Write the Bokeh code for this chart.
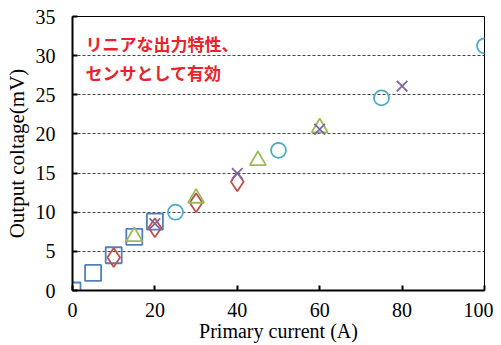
from bokeh.plotting import figure
from bokeh.models import Range1d, FixedTicker, Label
from bokeh.embed import file_html
from bokeh.resources import INLINE

sq_x = [0, 5, 10, 15, 20]
sq_y = [0, 2.25, 4.5, 6.85, 8.8]
dm_x = [10, 20, 30, 40]
dm_y = [4.2, 8.0, 11.2, 13.9]
tr_x = [15, 30, 45, 60]
tr_y = [6.9, 11.8, 16.6, 20.8]
xx_x = [20, 40, 60, 80]
xx_y = [8.55, 14.95, 20.6, 26.1]
ci_x = [25, 50, 75, 100]
ci_y = [10.0, 17.9, 24.6, 31.25]
x_ticks = [0, 20, 40, 60, 80, 100]
y_ticks = [0, 5, 10, 15, 20, 25, 30, 35]

p = figure(frame_width=412, frame_height=274, output_backend="svg", toolbar_location=None,
           x_range=Range1d(0, 100), y_range=Range1d(0, 35),
           min_border_left=72, min_border_right=9, min_border_top=16, min_border_bottom=50)
p.background_fill_color = "white"
p.border_fill_color = "white"
p.outline_line_color = "black"
p.outline_line_width = 1

p.xgrid.grid_line_color = None
p.ygrid.ticker = FixedTicker(ticks=[5, 10, 15, 20, 25, 30])
p.ygrid.grid_line_color = "#444444"
p.ygrid.grid_line_dash = "3 2"
p.ygrid.grid_line_width = 1

for axs in (p.xaxis, p.yaxis):
    axs.axis_line_color = "black"
    axs.axis_line_width = 2
    axs.major_tick_line_color = "black"
    axs.major_tick_line_width = 2
    axs.major_tick_in = 5
    axs.major_tick_out = 0
    axs.minor_tick_line_color = None
    axs.major_label_text_font = "Times New Roman"
    axs.major_label_text_font_style = "normal"
    axs.major_label_text_font_size = "20px"
    axs.major_label_text_color = "black"
    axs.axis_label_text_font = "Times New Roman"
    axs.axis_label_text_font_style = "normal"
    axs.axis_label_text_color = "black"
    axs.axis_label_text_font_size = "21px"

p.xaxis.ticker = FixedTicker(ticks=x_ticks)
p.yaxis.ticker = FixedTicker(ticks=y_ticks)
p.xaxis.axis_label = "Primary current (A)"
p.xaxis.axis_label_text_font_size = "20px"
p.yaxis.axis_label = "Output coltage(mV)"
p.xaxis.major_label_standoff = 12
p.yaxis.major_label_standoff = 17
p.xaxis.axis_label_standoff = 0
p.yaxis.axis_label_standoff = 4

ms = 15
p.scatter(sq_x, sq_y, marker="square", size=ms + 1, fill_color=None, line_color="#4F81BD", line_width=1.8)
p.scatter(dm_x, dm_y, marker="diamond", size=ms + 4, fill_color=None, line_color="#C0504D", line_width=1.8)
p.scatter(tr_x, tr_y, marker="triangle", size=ms + 1, fill_color=None, line_color="#9BBB59", line_width=1.8)
p.scatter(xx_x, xx_y, marker="x", size=ms, fill_color=None, line_color="#8064A2", line_width=1.8)
p.scatter(ci_x, ci_y, marker="circle", size=ms, fill_color=None, line_color="#4BACC6", line_width=1.8)

for i, t in enumerate(["リニアな出力特性、", "センサとして有効"]):
    p.add_layout(Label(x=13, y=247 - 29 * i, x_units="screen", y_units="screen", text=t,
                       text_font="Noto Sans CJK JP", text_font_style="bold",
                       text_font_size="17px", text_color="#E8232B",
                       text_baseline="middle"))

open("out.html", "w").write(file_html(p, INLINE))
